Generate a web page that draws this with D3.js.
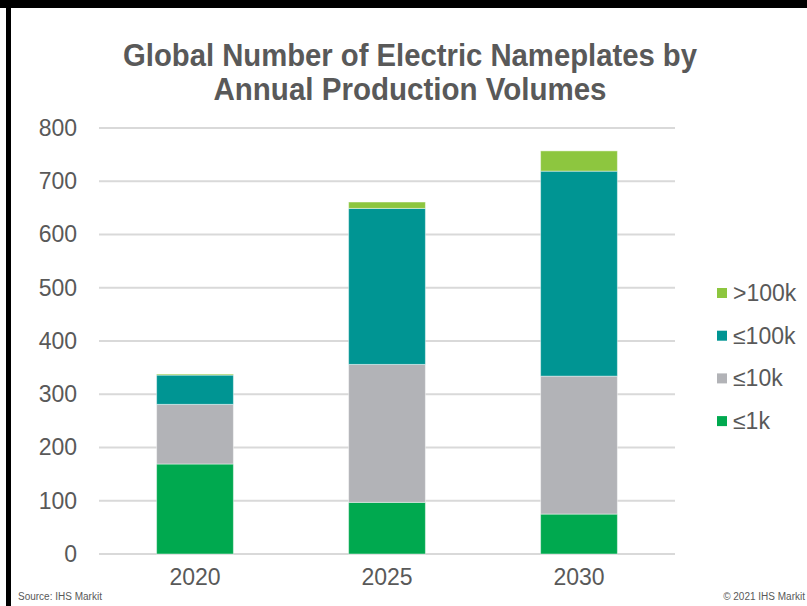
<!DOCTYPE html>
<html>
<head>
<meta charset="utf-8">
<script src="https://cdn.jsdelivr.net/npm/d3@7"></script>
<style>
  html, body { margin: 0; padding: 0; background: #fff; }
  svg { display: block; }
  text { font-family: "Liberation Sans", Arial, sans-serif; fill: #595959; }
</style>
</head>
<body>
<svg id="chart" width="807" height="606"></svg>
<script>
// Nameplate counts by annual production volume band
const years = ["2020", "2025", "2030"];
const le1k = [169, 97, 75];
const le10k = [112, 259, 259];
const le100k = [55, 293, 385];
const gt100k = [2, 12, 38];

const seriesKeys = ["le1k", "le10k", "le100k", "gt100k"];
const seriesLabels = { gt100k: ">100k", le100k: "≤100k", le10k: "≤10k", le1k: "≤1k" };
const colors = { le1k: "#00a94f", le10k: "#b2b3b7", le100k: "#009593", gt100k: "#8dc63f" };
const yTicks = [0, 100, 200, 300, 400, 500, 600, 700, 800];

const table = years.map((y, i) => ({
  year: y, le1k: le1k[i], le10k: le10k[i], le100k: le100k[i], gt100k: gt100k[i]
}));

const svg = d3.select("#chart");

// frame
svg.append("rect").attr("x", 0).attr("y", 0).attr("width", 807).attr("height", 8).attr("fill", "#000");
svg.append("rect").attr("x", 6).attr("y", 0).attr("width", 5).attr("height", 606).attr("fill", "#000");

// title (condensed bold)
const title = svg.append("g").attr("font-weight", "bold").attr("font-size", 31).attr("text-anchor", "middle");
title.append("text").attr("x", 410).attr("y", 66)
  .attr("textLength", 574).attr("lengthAdjust", "spacingAndGlyphs")
  .text("Global Number of Electric Nameplates by");
title.append("text").attr("x", 410).attr("y", 100)
  .attr("textLength", 393).attr("lengthAdjust", "spacingAndGlyphs")
  .text("Annual Production Volumes");

const x = d3.scaleBand().domain(years).range([99, 675]).paddingInner(0.6).paddingOuter(0.3);
const y = d3.scaleLinear().domain([0, 800]).range([554, 128]);

// gridlines
svg.append("g").selectAll("line").data(yTicks).join("line")
  .attr("x1", 99).attr("x2", 675)
  .attr("y1", d => y(d)).attr("y2", d => y(d))
  .attr("stroke", "#d9d9d9").attr("stroke-width", 2);

// y axis labels
const yAxis = svg.append("g").attr("transform", "translate(99,0)")
  .call(d3.axisLeft(y).tickValues(yTicks).tickSize(0).tickPadding(22));
yAxis.select(".domain").remove();
yAxis.selectAll("text").attr("font-size", 23).attr("fill", "#595959")
  .attr("font-family", "Liberation Sans, Arial, sans-serif");

// x axis labels
const xAxis = svg.append("g").attr("transform", "translate(0,554)")
  .call(d3.axisBottom(x).tickSize(0).tickPadding(15));
xAxis.select(".domain").remove();
xAxis.selectAll("text").attr("font-size", 23).attr("fill", "#595959")
  .attr("font-family", "Liberation Sans, Arial, sans-serif");

// stacked bars
const stacked = d3.stack().keys(seriesKeys)(table);
svg.append("g").selectAll("g").data(stacked).join("g")
  .attr("fill", d => colors[d.key])
  .selectAll("rect").data(d => d).join("rect")
  .attr("x", d => x(d.data.year))
  .attr("width", x.bandwidth())
  .attr("y", d => y(d[1]))
  .attr("height", d => y(d[0]) - y(d[1]))
  .attr("stroke", "rgba(255,255,255,0.45)").attr("stroke-width", 1);

// legend
const legendKeys = ["gt100k", "le100k", "le10k", "le1k"];
const legend = svg.append("g").selectAll("g").data(legendKeys).join("g")
  .attr("transform", (d, i) => `translate(717,${293 + i * 42.7})`);
legend.append("rect").attr("x", 0).attr("y", -5).attr("width", 10).attr("height", 10)
  .attr("fill", d => colors[d]);
legend.append("text").attr("x", 16).attr("y", 0).attr("dy", "0.35em")
  .attr("font-size", 23).text(d => seriesLabels[d]);

// footer
svg.append("text").attr("x", 18).attr("y", 600).attr("font-size", 10).attr("fill", "#000").text("Source: IHS Markit");
svg.append("text").attr("x", 805).attr("y", 600).attr("font-size", 10).attr("fill", "#000")
  .attr("text-anchor", "end").text("© 2021 IHS Markit");
</script>
</body>
</html>
